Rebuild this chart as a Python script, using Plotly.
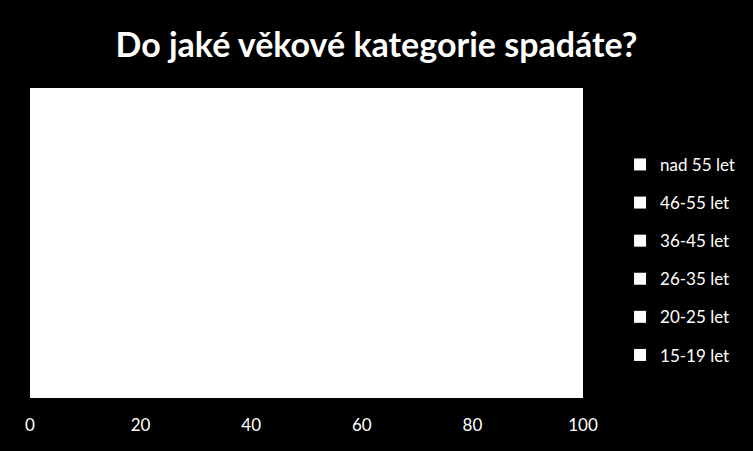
import plotly.graph_objects as go

categories = ['15-19 let', '20-25 let', '26-35 let', '36-45 let', '46-55 let', 'nad 55 let']
values = [12, 38, 22, 14, 9, 5]
x_ticks = [0, 20, 40, 60, 80, 100]

fig = go.Figure()
for i, (name, v) in enumerate(zip(categories, values)):
    fig.add_trace(go.Bar(
        y=['odpovědi'], x=[v], name=name, orientation='h',
        marker_color='white', marker_line_width=0, legendgroup=name,
        legendrank=len(categories) - i,
    ))

fig.update_layout(
    barmode='stack', bargap=0,
    width=753, height=451,
    paper_bgcolor='black', plot_bgcolor='black',
    margin=dict(l=30, r=170, t=88, b=53),
    font=dict(family='Lato, sans-serif', color='white', size=17),
    title=dict(text='<b>Do jaké věkové kategorie spadáte?</b>', x=0.5, xref='container',
               y=1 - 45 / 451, yanchor='middle', font=dict(size=34, color='white')),
    legend=dict(x=1.067, xanchor='left', y=0.81, yanchor='top',
                tracegroupgap=13, font=dict(size=17, color='white'), itemwidth=30),
    showlegend=True,
)
fig.update_xaxes(range=[0, 100], tickvals=x_ticks, showgrid=False, zeroline=False,
                 showline=False, ticklabelstandoff=15, tickfont=dict(size=17, color='white'))
fig.update_yaxes(visible=False)

# page margin off so the figure sits at the window's corner
fig.write_html('out.html', config={'displayModeBar': False},
               post_script="document.body.style.margin='0';")
